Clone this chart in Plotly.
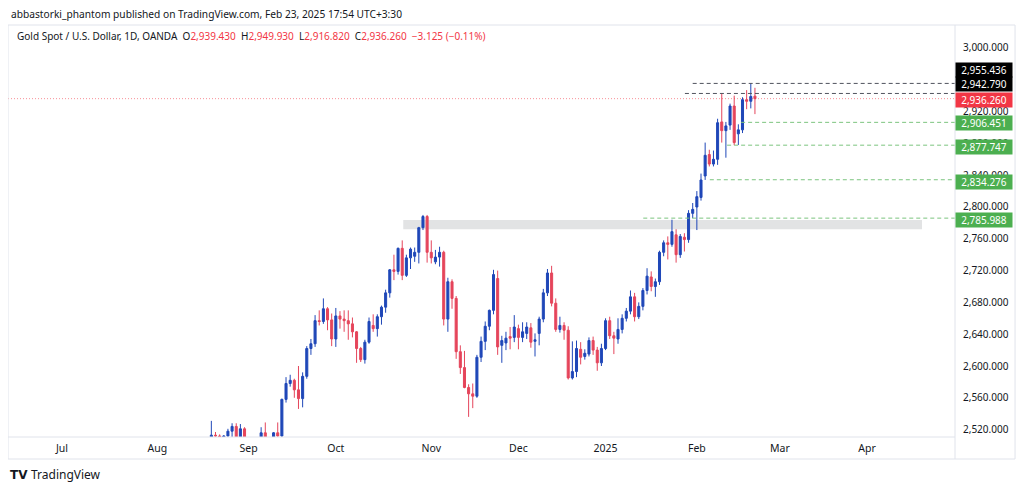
import plotly.graph_objects as go
import pandas as pd

# ---------------- data ----------------
dates = [
    "2024-08-12", "2024-08-13", "2024-08-14", "2024-08-15", "2024-08-16", "2024-08-19", "2024-08-20",
    "2024-08-21", "2024-08-22", "2024-08-23", "2024-08-26", "2024-08-27", "2024-08-28", "2024-08-29",
    "2024-08-30",
    "2024-09-02", "2024-09-03", "2024-09-04", "2024-09-05", "2024-09-06", "2024-09-09", "2024-09-10",
    "2024-09-11", "2024-09-12", "2024-09-13", "2024-09-16", "2024-09-17", "2024-09-18", "2024-09-19",
    "2024-09-20", "2024-09-23", "2024-09-24", "2024-09-25", "2024-09-26", "2024-09-27", "2024-09-30",
    "2024-10-01", "2024-10-02", "2024-10-03", "2024-10-04", "2024-10-07", "2024-10-08", "2024-10-09",
    "2024-10-10", "2024-10-11", "2024-10-14", "2024-10-15", "2024-10-16", "2024-10-17", "2024-10-18",
    "2024-10-21", "2024-10-22", "2024-10-23", "2024-10-24", "2024-10-25", "2024-10-28", "2024-10-29",
    "2024-10-30", "2024-10-31",
    "2024-11-01", "2024-11-04", "2024-11-05", "2024-11-06", "2024-11-07", "2024-11-08", "2024-11-11",
    "2024-11-12", "2024-11-13", "2024-11-14", "2024-11-15", "2024-11-18", "2024-11-19", "2024-11-20",
    "2024-11-21", "2024-11-22", "2024-11-25", "2024-11-26", "2024-11-27", "2024-11-28", "2024-11-29",
    "2024-12-02", "2024-12-03", "2024-12-04", "2024-12-05", "2024-12-06", "2024-12-09", "2024-12-10",
    "2024-12-11", "2024-12-12", "2024-12-13", "2024-12-16", "2024-12-17", "2024-12-18", "2024-12-19",
    "2024-12-20", "2024-12-23", "2024-12-24", "2024-12-26", "2024-12-27", "2024-12-30", "2024-12-31",
    "2025-01-02", "2025-01-03", "2025-01-06", "2025-01-07", "2025-01-08", "2025-01-09", "2025-01-10",
    "2025-01-13", "2025-01-14", "2025-01-15", "2025-01-16", "2025-01-17", "2025-01-20", "2025-01-21",
    "2025-01-22", "2025-01-23", "2025-01-24", "2025-01-27", "2025-01-28", "2025-01-29", "2025-01-30",
    "2025-01-31",
    "2025-02-03", "2025-02-04", "2025-02-05", "2025-02-06", "2025-02-07", "2025-02-10", "2025-02-11",
    "2025-02-12", "2025-02-13", "2025-02-14", "2025-02-17", "2025-02-18", "2025-02-19", "2025-02-20",
    "2025-02-21",
]

opens = [
    2431, 2472, 2465, 2448, 2456, 2507, 2504, 2513, 2512, 2484, 2512, 2518, 2524, 2504, 2521,
    2503, 2500, 2493, 2495, 2516, 2497, 2506, 2516, 2512, 2558, 2578, 2582, 2570, 2559, 2587,
    2622, 2628, 2657, 2656, 2672, 2658,
    2634, 2663, 2659, 2657, 2653, 2643, 2622, 2608, 2630, 2651, 2647, 2662, 2674, 2692, 2721,
    2719, 2748, 2714, 2736, 2738, 2743, 2774, 2788,
    2743, 2731, 2737, 2743, 2659, 2706, 2685, 2618, 2598, 2573, 2565, 2562, 2611, 2631, 2650,
    2670, 2710, 2626, 2629, 2637, 2636,
    2647, 2636, 2641, 2648, 2631, 2641, 2659, 2692, 2717, 2679, 2646, 2651, 2645, 2585, 2593,
    2621, 2612, 2615, 2632, 2620, 2604,
    2622, 2657, 2638, 2634, 2646, 2660, 2669, 2687, 2662, 2675, 2695, 2712, 2700, 2706, 2743,
    2755, 2753, 2765, 2740, 2762, 2759, 2792,
    2800, 2812, 2839, 2866, 2854, 2860, 2907, 2896, 2903, 2927, 2892, 2897, 2935, 2933, 2939.43,
]

highs = [
    2475, 2477, 2479, 2463, 2509, 2510, 2531, 2517, 2514, 2513, 2521, 2528, 2528, 2527, 2523,
    2504, 2503, 2505, 2523, 2529, 2509, 2517, 2529, 2559, 2586, 2589, 2584, 2600, 2592, 2625,
    2634, 2664, 2670, 2685, 2674, 2666,
    2673, 2669, 2670, 2670, 2661, 2644, 2624, 2633, 2661, 2665, 2665, 2676, 2696, 2722, 2740,
    2749, 2758, 2740, 2749, 2749, 2775, 2790, 2790,
    2758, 2746, 2750, 2745, 2711, 2709, 2688, 2626, 2619, 2577, 2578, 2614, 2637, 2656, 2671,
    2721, 2720, 2638, 2643, 2649, 2664,
    2652, 2655, 2655, 2654, 2641, 2662, 2697, 2722, 2726, 2685, 2662, 2655, 2650, 2631, 2632,
    2630, 2621, 2636, 2637, 2624, 2628,
    2660, 2662, 2643, 2660, 2665, 2673, 2695, 2692, 2680, 2698, 2723, 2719, 2710, 2745, 2758,
    2763, 2784, 2772, 2766, 2767, 2796, 2805,
    2820, 2842, 2881, 2872, 2871, 2911, 2942.79, 2907, 2930, 2940, 2904, 2938, 2947, 2955.436, 2949.93,
]

lows = [
    2425, 2460, 2440, 2432, 2454, 2493, 2497, 2501, 2470, 2477, 2504, 2506, 2499, 2502, 2490,
    2489, 2472, 2484, 2491, 2485, 2491, 2500, 2500, 2508, 2554, 2574, 2560, 2546, 2548, 2584,
    2614, 2624, 2651, 2653, 2645, 2625,
    2624, 2647, 2643, 2633, 2636, 2604, 2605, 2603, 2628, 2643, 2637, 2652, 2667, 2686, 2708,
    2715, 2708, 2712, 2722, 2731, 2729, 2771, 2730,
    2729, 2728, 2725, 2651, 2643, 2672, 2609, 2590, 2572, 2536, 2547, 2560, 2605, 2620, 2645,
    2665, 2614, 2604, 2620, 2621, 2630,
    2621, 2630, 2634, 2623, 2612, 2626, 2655, 2688, 2675, 2643, 2642, 2633, 2583, 2583, 2586,
    2602, 2608, 2612, 2614, 2594, 2600,
    2620, 2634, 2615, 2628, 2641, 2656, 2665, 2656, 2659, 2670, 2690, 2694, 2687, 2702, 2738,
    2734, 2750, 2730, 2736, 2744, 2755, 2786,
    2771, 2808, 2834, 2851, 2851, 2853, 2881, 2862, 2897, 2877.747, 2878, 2893, 2923, 2924, 2916.82,
]

closes = [
    2472, 2465, 2448, 2456, 2507, 2504, 2513, 2512, 2484, 2512, 2518, 2524, 2504, 2521, 2503,
    2500, 2493, 2495, 2516, 2497, 2506, 2516, 2512, 2558, 2578, 2582, 2570, 2559, 2587, 2622,
    2628, 2657, 2656, 2672, 2658, 2634,
    2663, 2659, 2657, 2653, 2643, 2622, 2608, 2630, 2656, 2647, 2662, 2674, 2692, 2721, 2719,
    2748, 2714, 2736, 2747, 2743, 2774, 2788, 2743,
    2736, 2737, 2743, 2659, 2706, 2685, 2618, 2598, 2573, 2565, 2562, 2611, 2631, 2650, 2670,
    2715, 2624, 2632, 2635, 2635, 2649,
    2636, 2643, 2649, 2630, 2633, 2659, 2692, 2717, 2679, 2646, 2651, 2645, 2585, 2593, 2622,
    2611, 2616, 2632, 2620, 2604, 2622,
    2657, 2638, 2635, 2646, 2660, 2669, 2687, 2662, 2675, 2695, 2713, 2700, 2706, 2743, 2755,
    2753, 2769, 2740, 2763, 2759, 2792, 2797,
    2813, 2834, 2865, 2854, 2860, 2906, 2896, 2902, 2927, 2881, 2897, 2935, 2933, 2939, 2936.26,
]

month_ticks = ["2024-07-01", "2024-08-01", "2024-09-02", "2024-10-01", "2024-11-01",
               "2024-12-02", "2025-01-02", "2025-02-03", "2025-03-03", "2025-04-01"]
month_labels = ["Jul", "Aug", "Sep", "Oct", "Nov", "Dec", "2025", "Feb", "Mar", "Apr"]

price_ticks = [2520, 2560, 2600, 2640, 2680, 2720, 2760, 2800, 2840, 2880, 2920, 2960, 3000]

# horizontal rays: (price, start date)
black_levels = [2955.436, 2942.790]
black_starts = ["2025-01-31 12:00", "2025-01-29 15:00"]
green_levels = [2906.451, 2877.747, 2834.276, 2785.988]
green_starts = ["2025-02-18 04:00", "2025-02-12 19:00", "2025-02-06 15:00", "2025-01-15 14:00"]
last_price = 2936.260
zone_low, zone_high = 2772.0, 2783.6
zone_start, zone_end = "2024-10-23 18:00", "2025-04-18 18:00"

# ---------------- style ----------------
BLUE = "#1f47b8"
RED = "#e5455b"
GREEN = "#4caf50"
TXT = "#131722"
FONT = "Noto Sans"

x_range = ["2024-06-12 12:00", "2025-04-30 17:00"]
y_range = [2510.7, 3028.9]

x_noon = pd.to_datetime(pd.Series(dates)) + pd.Timedelta(hours=12)
tick_noon = pd.to_datetime(pd.Series(month_ticks)) + pd.Timedelta(hours=12)

fig = go.Figure()
fig.add_trace(go.Candlestick(
    x=x_noon, open=opens, high=highs, low=lows, close=closes,
    increasing=dict(line=dict(color=BLUE, width=1), fillcolor=BLUE),
    decreasing=dict(line=dict(color=RED, width=1), fillcolor=RED),
    whiskerwidth=0, hoverinfo="skip", showlegend=False,
))

shapes = []
# support zone
shapes.append(dict(type="rect", xref="x", yref="y", x0=zone_start, x1=zone_end,
                   y0=zone_low, y1=zone_high, fillcolor="#e2e3e4", line=dict(width=0), layer="below"))
for lv, st in zip(black_levels, black_starts):
    shapes.append(dict(type="line", xref="x", yref="y", x0=st, x1=x_range[1], y0=lv, y1=lv,
                       line=dict(color="#50535e", width=1, dash="4px,3px")))
for lv, st in zip(green_levels, green_starts):
    shapes.append(dict(type="line", xref="x", yref="y", x0=st, x1=x_range[1], y0=lv, y1=lv,
                       line=dict(color="#7cc47f", width=1, dash="4px,3px")))
shapes.append(dict(type="line", xref="x", yref="y", x0=x_range[0], x1=x_range[1],
                   y0=last_price, y1=last_price,
                   line=dict(color="rgba(242,54,69,0.55)", width=1, dash="1px,2px")))
# frame
frame_col = "#e0e3eb"
shapes.append(dict(type="rect", xref="paper", yref="paper", x0=0, x1=1.0634, y0=-0.0534, y1=1.0,
                   line=dict(color=frame_col, width=1), fillcolor="rgba(0,0,0,0)"))
shapes.append(dict(type="line", xref="paper", yref="paper", x0=1.0, x1=1.0, y0=-0.0534, y1=1.0,
                   line=dict(color=frame_col, width=1)))
shapes.append(dict(type="line", xref="paper", yref="paper", x0=0, x1=1.0, y0=0, y1=0,
                   line=dict(color=frame_col, width=1)))

annotations = []
annotations.append(dict(xref="paper", yref="paper", x=0.001, y=1.0255, xanchor="left", yanchor="middle",
                        text="abbastorki_phantom published on TradingView.com, Feb 23, 2025 17:54 UTC+3:30",
                        showarrow=False, font=dict(family=FONT, size=10.2, color=TXT)))

def red(s):
    return "<span style='color:#f23645'>" + s + "</span>"

sp = "\u00a0\u00a0"
header2 = ("Gold Spot / U.S. Dollar, 1D, OANDA" + sp + "O" + red("2,939.430") + sp + "H" + red("2,949.930")
           + sp + "L" + red("2,916.820") + sp + "C" + red("2,936.260") + sp + red("\u22123.125 (\u22120.11%)"))
annotations.append(dict(xref="paper", yref="paper", x=0.0074, y=0.9733, xanchor="left", yanchor="middle",
                        text=header2, showarrow=False, font=dict(family=FONT, size=10, color=TXT)))

# price labels on scale
label_prices = [2955.436, 2942.790, 2936.260, 2906.451, 2877.747, 2834.276, 2785.988]
label_colors = ["#000000", "#000000", "#f23645", GREEN, GREEN, GREEN, GREEN]
label_shift = [13, 9, -1, -1, -1.5, -2, -1.5]
for p, c, s in zip(label_prices, label_colors, label_shift):
    annotations.append(dict(xref="paper", yref="y", x=1.0003, y=p, xanchor="left", yanchor="middle",
                            yshift=s, text=f"{p:,.3f}", showarrow=False, bgcolor=c,
                            width=54, height=12, borderpad=1, align="center",
                            font=dict(family=FONT, size=10, color="#ffffff")))

# TradingView footer
annotations.append(dict(xref="paper", yref="paper", x=0.0, y=-0.0922, xanchor="left", yanchor="middle",
                        text="<b>TV</b>", showarrow=False,
                        font=dict(family="DejaVu Sans", size=12, color="#131722")))
annotations.append(dict(xref="paper", yref="paper", x=0.0222, y=-0.0922, xanchor="left", yanchor="middle",
                        text="TradingView", showarrow=False,
                        font=dict(family=FONT, size=12, color="#131722")))

# the page body adds an 8px margin, so the figure is 8px smaller than the window
fig.update_layout(
    width=1016, height=482, autosize=False,
    margin=dict(l=0, r=69, t=17, b=53, pad=0),
    paper_bgcolor="white", plot_bgcolor="white",
    showlegend=False, hovermode=False,
    font=dict(family=FONT, color=TXT, size=11),
    shapes=shapes, annotations=annotations,
    xaxis=dict(
        type="date", range=x_range,
        rangebreaks=[dict(bounds=["sat", "mon"]), dict(values=["2024-12-25", "2025-01-01"])],
        tickmode="array", tickvals=tick_noon, ticktext=month_labels,
        showgrid=False, zeroline=False, showline=False, ticks="",
        ticklabelstandoff=3,
        tickfont=dict(family=FONT, size=10.5, color=TXT),
        rangeslider=dict(visible=False), fixedrange=True,
    ),
    yaxis=dict(
        side="right", range=y_range, tickmode="array", tickvals=price_ticks,
        tickformat=",.3f", showgrid=False, zeroline=False, showline=False, ticks="",
        ticklabelstandoff=7, tickfont=dict(family=FONT, size=10, color=TXT), fixedrange=True,
    ),
)

fig.write_html("out.html")
